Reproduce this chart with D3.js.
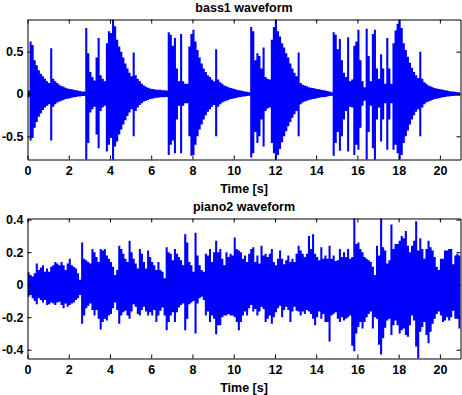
<!DOCTYPE html>
<html>
<head>
<meta charset="utf-8">
<script src="https://cdn.jsdelivr.net/npm/d3@7"></script>
<style>
  body { margin: 0; background: #fff; }
  svg { display: block; }
</style>
</head>
<body>
<div id="chart"></div>
<script>
// waveform envelopes, one max/min pair per 0.1 s bin (0 .. 21 s)
var binStep = 0.1;

var bassHi = [
  0.04,0.62,0.58,0.40,0.34,0.28,0.24,0.21,0.18,0.15,
  0.13,0.54,0.18,0.15,0.13,0.11,0.095,0.085,0.075,0.065,
  0.06,0.055,0.05,0.045,0.04,0.035,0.03,0.03,0.78,0.48,
  0.26,0.2,0.16,0.43,0.66,0.22,0.18,0.15,0.6,0.74,
  0.72,0.88,0.8,0.64,0.56,0.5,0.43,0.36,0.3,0.25,
  0.21,0.49,0.22,0.18,0.15,0.12,0.1,0.085,0.075,0.065,
  0.06,0.055,0.05,0.05,0.05,0.045,0.045,0.04,0.73,0.7,
  0.57,0.66,0.3,0.15,0.71,0.15,0.12,0.12,0.56,0.71,
  0.76,0.62,0.52,0.43,0.36,0.3,0.26,0.22,0.2,0.17,
  0.15,0.53,0.17,0.14,0.12,0.1,0.09,0.08,0.07,0.065,
  0.06,0.05,0.045,0.04,0.035,0.03,0.025,0.02,0.79,0.74,
  0.4,0.48,0.45,0.3,0.55,0.2,0.18,0.17,0.64,0.79,
  0.88,0.74,0.68,0.6,0.55,0.48,0.43,0.36,0.3,0.25,
  0.21,0.49,0.13,0.11,0.1,0.09,0.08,0.075,0.07,0.065,
  0.06,0.055,0.05,0.045,0.04,0.035,0.03,0.02,0.73,0.7,
  0.53,0.65,0.4,0.25,0.2,0.67,0.15,0.17,0.57,0.62,
  0.76,0.4,0.15,0.08,0.77,0.45,0.15,0.71,0.76,0.3,
  0.18,0.47,0.3,0.12,0.66,0.3,0.12,0.6,0.75,0.83,
  0.88,0.78,0.6,0.52,0.44,0.37,0.31,0.26,0.22,0.19,
  0.5,0.18,0.14,0.12,0.1,0.09,0.08,0.07,0.065,0.06,
  0.055,0.05,0.045,0.04,0.035,0.03,0.03,0.025,0.02,0.02
];
var bassLo = [
  -0.04,-0.55,-0.52,-0.4,-0.33,-0.27,-0.23,-0.19,-0.16,-0.14,
  -0.12,-0.55,-0.15,-0.12,-0.1,-0.09,-0.08,-0.07,-0.06,-0.055,
  -0.05,-0.045,-0.04,-0.035,-0.03,-0.03,-0.025,-0.025,-0.78,-0.58,
  -0.22,-0.18,-0.15,-0.48,-0.64,-0.2,-0.16,-0.14,-0.68,-0.6,
  -0.52,-0.78,-0.62,-0.56,-0.48,-0.42,-0.36,-0.31,-0.26,-0.22,
  -0.18,-0.5,-0.2,-0.16,-0.13,-0.11,-0.09,-0.08,-0.07,-0.06,
  -0.055,-0.05,-0.045,-0.045,-0.04,-0.04,-0.04,-0.035,-0.72,-0.6,
  -0.55,-0.7,-0.3,-0.14,-0.7,-0.14,-0.11,-0.11,-0.5,-0.73,
  -0.72,-0.6,-0.5,-0.42,-0.36,-0.3,-0.25,-0.21,-0.18,-0.15,
  -0.13,-0.5,-0.15,-0.12,-0.1,-0.09,-0.08,-0.07,-0.06,-0.055,
  -0.05,-0.045,-0.04,-0.035,-0.03,-0.03,-0.025,-0.02,-0.75,-0.7,
  -0.45,-0.58,-0.5,-0.3,-0.62,-0.2,-0.17,-0.16,-0.58,-0.7,
  -0.78,-0.72,-0.65,-0.57,-0.5,-0.44,-0.38,-0.33,-0.28,-0.24,
  -0.2,-0.5,-0.12,-0.1,-0.09,-0.08,-0.07,-0.065,-0.06,-0.055,
  -0.05,-0.045,-0.04,-0.04,-0.035,-0.03,-0.025,-0.02,-0.73,-0.58,
  -0.45,-0.67,-0.5,-0.3,-0.2,-0.68,-0.15,-0.16,-0.72,-0.6,
  -0.66,-0.4,-0.14,-0.08,-0.78,-0.45,-0.14,-0.64,-0.78,-0.3,
  -0.16,-0.56,-0.3,-0.11,-0.66,-0.3,-0.11,-0.66,-0.6,-0.7,
  -0.78,-0.72,-0.58,-0.5,-0.43,-0.36,-0.3,-0.25,-0.21,-0.18,
  -0.5,-0.16,-0.12,-0.1,-0.09,-0.08,-0.07,-0.06,-0.055,-0.05,
  -0.045,-0.04,-0.035,-0.03,-0.03,-0.025,-0.025,-0.02,-0.02,-0.02
];
var pianoHi = [
  0.076,0.06,0.05,0.07,0.13,0.09,0.105,0.12,0.08,0.10,
  0.08,0.11,0.12,0.14,0.13,0.12,0.14,0.12,0.09,0.13,
  0.16,0.12,0.11,0.10,0.07,0.03,0.26,0.16,0.15,0.14,
  0.13,0.22,0.20,0.17,0.14,0.22,0.21,0.22,0.18,0.16,
  0.14,0.11,0.06,0.09,0.24,0.22,0.19,0.16,0.14,0.27,
  0.20,0.16,0.13,0.10,0.22,0.19,0.14,0.10,0.21,0.17,
  0.14,0.12,0.09,0.14,0.09,0.08,0.04,0.23,0.20,0.19,
  0.15,0.22,0.19,0.17,0.15,0.12,0.31,0.26,0.14,0.12,
  0.08,0.32,0.18,0.12,0.09,0.08,0.19,0.18,0.22,0.14,
  0.20,0.27,0.20,0.22,0.16,0.12,0.20,0.17,0.19,0.18,
  0.29,0.22,0.21,0.20,0.16,0.18,0.14,0.19,0.22,0.23,
  0.14,0.18,0.13,0.24,0.18,0.19,0.17,0.19,0.22,0.14,
  0.12,0.16,0.21,0.16,0.125,0.15,0.18,0.14,0.16,0.14,
  0.19,0.24,0.21,0.19,0.17,0.19,0.30,0.22,0.31,0.19,
  0.17,0.15,0.23,0.16,0.18,0.16,0.24,0.16,0.18,0.145,
  0.15,0.22,0.17,0.20,0.17,0.22,0.16,0.17,0.41,0.25,
  0.26,0.22,0.20,0.17,0.16,0.15,0.14,0.11,0.06,0.24,
  0.18,0.41,0.23,0.21,0.13,0.15,0.37,0.22,0.25,0.25,
  0.27,0.30,0.285,0.33,0.24,0.20,0.24,0.27,0.39,0.21,
  0.285,0.22,0.16,0.22,0.27,0.23,0.21,0.17,0.11,0.09,
  0.16,0.16,0.21,0.21,0.22,0.22,0.125,0.18,0.19,0.18
];
var pianoLo = [
  -0.074,-0.064,-0.084,-0.10,-0.12,-0.084,-0.094,-0.11,-0.094,-0.125,
  -0.12,-0.11,-0.115,-0.125,-0.11,-0.105,-0.125,-0.145,-0.115,-0.135,
  -0.125,-0.115,-0.11,-0.094,-0.084,-0.064,-0.24,-0.19,-0.145,-0.13,
  -0.115,-0.155,-0.19,-0.155,-0.21,-0.275,-0.23,-0.21,-0.22,-0.19,
  -0.18,-0.145,-0.11,-0.155,-0.24,-0.19,-0.17,-0.16,-0.19,-0.21,
  -0.165,-0.12,-0.135,-0.18,-0.19,-0.155,-0.135,-0.165,-0.19,-0.17,
  -0.19,-0.155,-0.23,-0.19,-0.16,-0.14,-0.19,-0.28,-0.23,-0.19,
  -0.17,-0.23,-0.17,-0.14,-0.125,-0.115,-0.28,-0.21,-0.12,-0.11,
  -0.10,-0.30,-0.115,-0.084,-0.074,-0.094,-0.19,-0.165,-0.23,-0.19,
  -0.21,-0.305,-0.25,-0.25,-0.20,-0.19,-0.19,-0.18,-0.19,-0.19,
  -0.20,-0.23,-0.28,-0.23,-0.19,-0.165,-0.19,-0.145,-0.125,-0.165,
  -0.15,-0.19,-0.165,-0.135,-0.15,-0.23,-0.21,-0.19,-0.24,-0.20,
  -0.17,-0.145,-0.13,-0.20,-0.155,-0.135,-0.155,-0.23,-0.165,-0.135,
  -0.16,-0.165,-0.19,-0.165,-0.18,-0.155,-0.165,-0.18,-0.21,-0.25,
  -0.20,-0.165,-0.21,-0.18,-0.23,-0.23,-0.35,-0.19,-0.18,-0.17,
  -0.21,-0.23,-0.20,-0.22,-0.21,-0.20,-0.19,-0.375,-0.41,-0.30,
  -0.26,-0.23,-0.27,-0.23,-0.20,-0.18,-0.165,-0.27,-0.20,-0.21,
  -0.37,-0.43,-0.33,-0.265,-0.22,-0.21,-0.31,-0.25,-0.22,-0.25,
  -0.30,-0.28,-0.27,-0.31,-0.32,-0.25,-0.19,-0.22,-0.38,-0.455,
  -0.29,-0.26,-0.23,-0.31,-0.36,-0.29,-0.24,-0.21,-0.18,-0.165,
  -0.19,-0.23,-0.22,-0.20,-0.22,-0.20,-0.16,-0.21,-0.21,-0.27
];

var timeDomain = [0, 21];
var xTicks = [0, 2, 4, 6, 8, 10, 12, 14, 16, 18, 20];
var bassYDomain = [-0.774, 0.88];
var bassYTicks = [-0.5, 0, 0.5];
var pianoYDomain = [-0.454, 0.407];
var pianoYTicks = [-0.4, -0.2, 0, 0.2, 0.4];

var W = 462, H = 395;
var font = "'Liberation Sans', Arial, sans-serif";

var svg = d3.select("#chart").append("svg")
  .attr("width", W)
  .attr("height", H)
  .style("font-family", font)
  .style("font-weight", "bold");

svg.append("rect").attr("width", W).attr("height", H).attr("fill", "#fff");

var x = d3.scaleLinear().domain(timeDomain).range([27.5, 460.5]);

function drawPanel(id, hi, lo, yDomain, yTicks, top, bottom, title) {
  var y = d3.scaleLinear().domain(yDomain).range([bottom, top]);

  var bins = hi.map((v, i) => ({t: i * binStep, hi: v, lo: lo[i]}));
  bins.push({t: timeDomain[1], hi: hi[hi.length - 1], lo: lo[lo.length - 1]});

  svg.append("clipPath").attr("id", id)
    .append("rect")
    .attr("x", x.range()[0]).attr("y", top)
    .attr("width", x.range()[1] - x.range()[0])
    .attr("height", bottom - top);

  var area = d3.area()
    .curve(d3.curveStepAfter)
    .x(d => x(d.t))
    .y0(d => y(d.lo))
    .y1(d => y(d.hi));

  svg.append("path")
    .datum(bins)
    .attr("clip-path", "url(#" + id + ")")
    .attr("fill", "#0000ff")
    .attr("d", area);

  var ax = [
    svg.append("g").attr("transform", "translate(0," + bottom + ")")
      .call(d3.axisBottom(x).tickValues(xTicks).tickSizeInner(-4).tickSizeOuter(0).tickPadding(7).tickFormat(d => String(d))),
    svg.append("g").attr("transform", "translate(0," + top + ")")
      .call(d3.axisTop(x).tickValues(xTicks).tickSizeInner(-4).tickSizeOuter(0).tickFormat(() => "")),
    svg.append("g").attr("transform", "translate(" + x.range()[0] + ",0)")
      .call(d3.axisLeft(y).tickValues(yTicks).tickSizeInner(-4).tickSizeOuter(0).tickPadding(4).tickFormat(d => String(d))),
    svg.append("g").attr("transform", "translate(" + x.range()[1] + ",0)")
      .call(d3.axisRight(y).tickValues(yTicks).tickSizeInner(-4).tickSizeOuter(0).tickFormat(() => ""))
  ];
  ax.forEach(g => {
    g.attr("font-family", null).attr("font-size", null);
    g.selectAll("path, line").attr("stroke", "#000");
    g.selectAll("text").attr("fill", "#000").style("font-size", "12.5px");
  });

  var cx = (x.range()[0] + x.range()[1]) / 2;
  svg.append("text")
    .attr("x", cx).attr("y", top - 8)
    .attr("text-anchor", "middle")
    .style("font-size", "12.5px")
    .text(title);
  svg.append("text")
    .attr("x", cx).attr("y", bottom + 33)
    .attr("text-anchor", "middle")
    .style("font-size", "12.5px")
    .text("Time [s]");
}

drawPanel("clipBass", bassHi, bassLo, bassYDomain, bassYTicks, 19.5, 159.5, "bass1 waveform");
drawPanel("clipPiano", pianoHi, pianoLo, pianoYDomain, pianoYTicks, 218.5, 358.5, "piano2 waveform");
</script>
</body>
</html>
